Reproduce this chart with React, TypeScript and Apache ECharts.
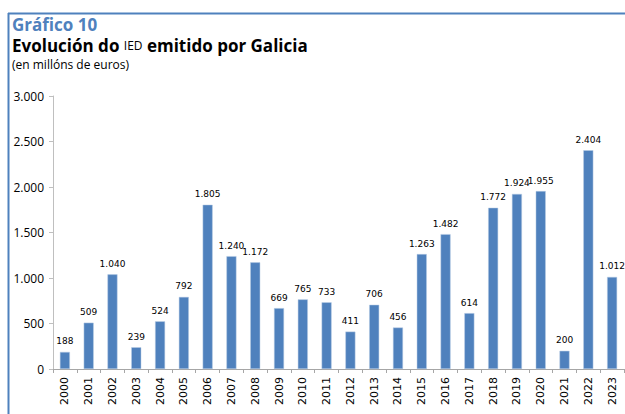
import React, { useEffect, useRef } from "react";
import * as echarts from "echarts";

const years = ["2000","2001","2002","2003","2004","2005","2006","2007","2008","2009","2010","2011","2012","2013","2014","2015","2016","2017","2018","2019","2020","2021","2022","2023"];
const values = [188,509,1040,239,524,792,1805,1240,1172,669,765,733,411,706,456,1263,1482,614,1772,1924,1955,200,2404,1012];
const yTicks = { min: 0, max: 3000, interval: 500 };

const fmt = (v: number) => String(v).replace(/\B(?=(\d{3})+(?!\d))/g, ".");

export default function App() {
  const ref = useRef<HTMLDivElement>(null);
  useEffect(() => {
    if (!ref.current) return;
    const chart = echarts.init(ref.current, null, { renderer: "svg" });
    chart.setOption({
      animation: false,
      backgroundColor: "#ffffff",
      grid: { left: 53, right: 1, top: 96, bottom: 45, containLabel: false },
      graphic: [
        { type: "line", shape: { x1: 8, y1: 13.5, x2: 625, y2: 13.5 }, style: { stroke: "#4f81bd", lineWidth: 2 } },
        { type: "line", shape: { x1: 8.5, y1: 13, x2: 8.5, y2: 414 }, style: { stroke: "#4f81bd", lineWidth: 2 } },
        { type: "text", left: 12, top: 16, style: { text: "Gráfico 10", font: "bold 17px 'Open Sans'", fill: "#4f81bd", lineHeight: 17 } },
        {
          type: "text", left: 12, top: 37,
          style: {
            text: "{b|Evolución do }{s|IED}{b| emitido por Galicia}",
            rich: {
              b: { font: "bold 17px 'Open Sans'", fill: "#000", lineHeight: 18 },
              s: { font: "12px 'Open Sans'", fill: "#000", lineHeight: 18 },
            },
          },
        },
        { type: "text", left: 12, top: 58, style: { text: "(en millóns de euros)", font: "12px 'Open Sans'", fill: "#000" } },
      ],
      xAxis: {
        type: "category",
        data: years,
        axisLine: { lineStyle: { color: "#a6a6a6" } },
        axisTick: { show: true, length: 4, lineStyle: { color: "#a6a6a6" } },
        axisLabel: { rotate: 90, fontSize: 11, fontFamily: "DejaVu Sans", color: "#000", margin: 8, interval: 0 },
      },
      yAxis: {
        type: "value",
        min: yTicks.min, max: yTicks.max, interval: yTicks.interval,
        axisLine: { show: true, lineStyle: { color: "#bfbfbf" } },
        axisTick: { show: true, length: 4, lineStyle: { color: "#bfbfbf" } },
        splitLine: { show: false },
        axisLabel: { formatter: (v: number) => fmt(v), fontSize: 12, fontFamily: "'Open Sans'", color: "#000", margin: 9 },
      },
      series: [
        {
          type: "bar",
          data: values,
          barWidth: 10,
          itemStyle: { color: "#4f81bd", borderColor: "#b9cde5", borderWidth: 0.5 },
          label: {
            show: true, position: "top", distance: 6,
            formatter: (p: any) => fmt(p.value),
            fontSize: 9, fontFamily: "DejaVu Sans", color: "#000",
          },
        },
      ],
    });
    return () => chart.dispose();
  }, []);
  return <div ref={ref} style={{ position: "fixed", left: 0, top: 0, width: 625, height: 414 }} />;
}
